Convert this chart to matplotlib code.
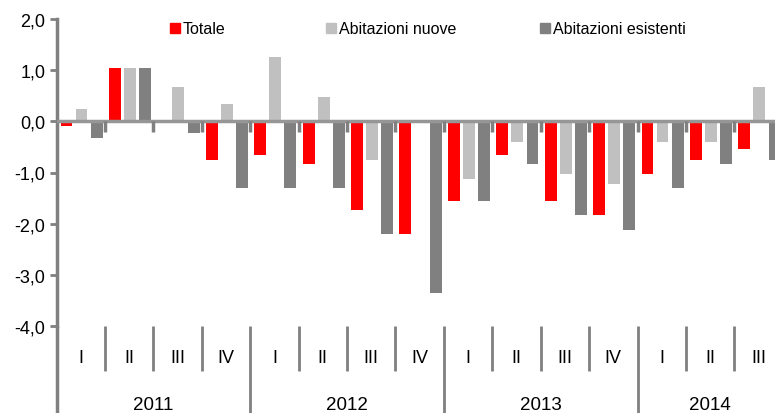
import matplotlib
matplotlib.use("Agg")
import matplotlib.pyplot as plt
import matplotlib.transforms as mtransforms
from matplotlib.patches import Rectangle
import numpy as np

quarters = ['I', 'II', 'III', 'IV', 'I', 'II', 'III', 'IV', 'I', 'II', 'III', 'IV', 'I', 'II', 'III']
years = ['2011', '2012', '2013', '2014']
year_groups = [(0, 3), (4, 7), (8, 11), (12, 14)]
series_names = ['Totale', 'Abitazioni nuove', 'Abitazioni esistenti']
totale = [-0.1, 1.05, 0.0, -0.75, -0.65, -0.84, -1.74, -2.2, -1.56, -0.65, -1.56, -1.84, -1.03, -0.75, -0.55]
nuove = [0.25, 1.05, 0.68, 0.34, 1.25, 0.48, -0.75, 0.0, -1.12, -0.41, -1.03, -1.22, -0.41, -0.41, 0.68]
esistenti = [-0.32, 1.05, -0.22, -1.31, -1.31, -1.31, -2.2, -3.35, -1.56, -0.84, -1.84, -2.12, -1.31, -0.84, -0.75]
colors = ['#FF0000', '#C0C0C0', '#808080']
yticks = [2.0, 1.0, 0.0, -1.0, -2.0, -3.0, -4.0]

plt.rcParams['font.family'] = ['Liberation Sans', 'DejaVu Sans']

fig = plt.figure(figsize=(7.75, 4.14), dpi=100)
ax = fig.add_axes([56.6 / 775, 1 - 327 / 414, 1 - 56.6 / 775, 307 / 414])

x = np.arange(len(quarters))
w = 0.245
offs = [-0.295, 0.015, 0.33]
for i, (vals, name) in enumerate(zip([totale, nuove, esistenti], series_names)):
    ax.bar(x + offs[i], vals, width=w, color=colors[i], label=name, zorder=2)

ax.set_xlim(-0.5, 14.34)
ax.set_ylim(-4.0, 2.0)
ax.set_yticks(yticks)
ax.set_yticklabels([f"{v:.1f}".replace('.', ',') for v in yticks], fontsize=13)
ax.tick_params(axis='y', direction='out', length=5, width=2, color='#808080', pad=3)
ax.set_xticks([])

for s in ['top', 'right', 'bottom']:
    ax.spines[s].set_visible(False)
ax.spines['left'].set_color('#808080')
ax.spines['left'].set_linewidth(2.5)

ax.axhline(0, color='#969696', lw=2.5, zorder=3)
for b in range(1, len(quarters)):
    ax.plot([b - 0.5, b - 0.5], [0, -0.2], color='#808080', lw=2.5, zorder=3,
            solid_capstyle='butt')

trans = mtransforms.blended_transform_factory(ax.transData, ax.transAxes)
ax.plot([-0.5, -0.5], [0, -0.30], transform=trans, color='#808080', lw=2.5,
        clip_on=False, solid_capstyle='butt')
year_bounds = [g[0] for g in year_groups[1:]]
for b in range(1, len(quarters)):
    top = -0.30 if b in year_bounds else -0.147
    ax.plot([b - 0.5, b - 0.5], [0, top], transform=trans, color='#808080',
            lw=2, clip_on=False, solid_capstyle='butt')
for xi, q in zip(x, quarters):
    ax.text(xi, -0.101, q, transform=trans, ha='center', va='center', fontsize=13,
            clip_on=False)
for (a, b), yr in zip(year_groups, years):
    ax.text((a + b) / 2, -0.256, yr, transform=trans, ha='center', va='center',
            fontsize=13.5, clip_on=False)

# legend entries placed at reference positions (figure pixels)
leg_x = [170, 326, 540]
leg_y = 29
for lx, c, name in zip(leg_x, colors, series_names):
    fig.patches.append(Rectangle((lx / 775, (414 - leg_y - 5) / 414), 10 / 775, 10 / 414,
                                 transform=fig.transFigure, color=c, figure=fig))
    fig.text((lx + 13) / 775, 1 - leg_y / 414, name, ha='left', va='center', fontsize=11.5)

fig.savefig('out.png', dpi=100)
